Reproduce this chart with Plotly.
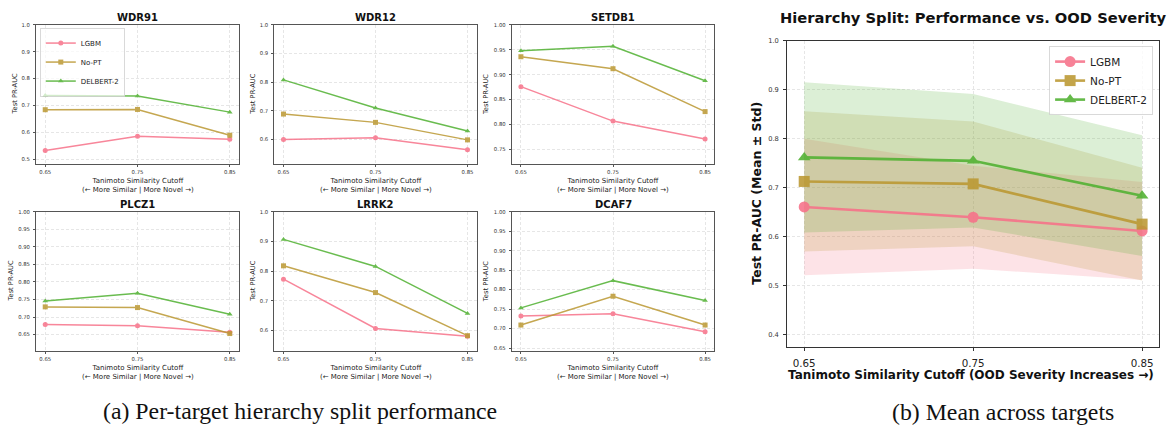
import plotly.graph_objects as go

# ---------------- data ----------------
CUTOFFS = [0.65, 0.75, 0.85]
CUTOFF_LABELS = ["0.65", "0.75", "0.85"]
MODELS = ["LGBM", "No-PT", "DELBERT-2"]
TARGETS = ["WDR91", "WDR12", "SETDB1", "PLCZ1", "LRRK2", "DCAF7"]

WDR91_LGBM = [0.532, 0.585, 0.574]
WDR91_NOPT = [0.684, 0.685, 0.589]
WDR91_DELBERT = [0.737, 0.735, 0.675]

WDR12_LGBM = [0.600, 0.606, 0.565]
WDR12_NOPT = [0.689, 0.660, 0.599]
WDR12_DELBERT = [0.808, 0.710, 0.630]

SETDB1_LGBM = [0.876, 0.807, 0.771]
SETDB1_NOPT = [0.936, 0.912, 0.826]
SETDB1_DELBERT = [0.948, 0.957, 0.888]

PLCZ1_LGBM = [0.679, 0.675, 0.657]
PLCZ1_NOPT = [0.729, 0.727, 0.653]
PLCZ1_DELBERT = [0.746, 0.768, 0.708]

LRRK2_LGBM = [0.773, 0.607, 0.581]
LRRK2_NOPT = [0.818, 0.728, 0.583]
LRRK2_DELBERT = [0.907, 0.816, 0.658]

DCAF7_LGBM = [0.732, 0.738, 0.692]
DCAF7_NOPT = [0.709, 0.783, 0.709]
DCAF7_DELBERT = [0.753, 0.823, 0.772]

MEAN_LGBM = [0.661, 0.640, 0.612]
STD_LGBM = [0.139, 0.105, 0.100]
MEAN_NOPT = [0.713, 0.708, 0.626]
STD_NOPT = [0.143, 0.127, 0.115]
MEAN_DELBERT = [0.762, 0.755, 0.684]
STD_DELBERT = [0.153, 0.136, 0.123]

PER_TARGET = {
    "WDR91": [WDR91_LGBM, WDR91_NOPT, WDR91_DELBERT],
    "WDR12": [WDR12_LGBM, WDR12_NOPT, WDR12_DELBERT],
    "SETDB1": [SETDB1_LGBM, SETDB1_NOPT, SETDB1_DELBERT],
    "PLCZ1": [PLCZ1_LGBM, PLCZ1_NOPT, PLCZ1_DELBERT],
    "LRRK2": [LRRK2_LGBM, LRRK2_NOPT, LRRK2_DELBERT],
    "DCAF7": [DCAF7_LGBM, DCAF7_NOPT, DCAF7_DELBERT],
}
MEANS = [MEAN_LGBM, MEAN_NOPT, MEAN_DELBERT]
STDS = [STD_LGBM, STD_NOPT, STD_DELBERT]

# ---------------- style ----------------
W, H = 1170, 427
COLORS = ["#f77189", "#bb9832", "#50b131"]
FILLS = ["rgba(247,113,137,0.2)", "rgba(187,152,50,0.2)", "rgba(80,177,49,0.2)"]
SYMBOLS = ["circle", "square", "triangle-up"]
FONT = "DejaVu Sans"
GRID = "#e6e6e6"
GRIDDASH = "3px,2px"
FRAME = "#555555"

COLS_PX = [(36, 239), (274.3, 476.7), (511.7, 714.3)]
ROWS_PX = [(21, 161.5), (209.7, 350.4)]
MEAN_PX = ((787.3, 1159), (37, 346))


def fx(p):
    return p / W


def fy(p):
    return 1 - p / H


fig = go.Figure()
layout = dict(
    width=W, height=H, margin=dict(l=0, r=0, t=0, b=0),
    paper_bgcolor="white", plot_bgcolor="white",
    font=dict(family=FONT, color="#222222"),
    annotations=[],
)

for i, t in enumerate(TARGETS):
    n = i + 1
    r, c = divmod(i, 3)
    (x0, x1), (y0, y1) = COLS_PX[c], ROWS_PX[r]
    series = PER_TARGET[t]
    lo = min(min(s) for s in series) - 0.05
    span = 1.0 - lo
    dtick = 0.1 if span > 0.45 else 0.05
    fmt = ".1f" if dtick == 0.1 else ".2f"
    layout[f"xaxis{n}"] = dict(
        domain=[fx(x0), fx(x1)], anchor=f"y{n}", range=[0.64, 0.86],
        tickvals=CUTOFFS, ticktext=CUTOFF_LABELS, tickfont=dict(size=5.3, color="#333"),
        ticks="outside", ticklen=2, tickcolor=FRAME, ticklabelstandoff=1,
        showgrid=True, gridcolor=GRID, griddash=GRIDDASH, gridwidth=0.8,
        showline=True, mirror=True, linecolor=FRAME, linewidth=1, zeroline=False,
    )
    layout[f"yaxis{n}"] = dict(
        domain=[fy(y1), fy(y0)], anchor=f"x{n}", range=[lo, 1.0],
        tick0=0, dtick=dtick, tickformat=fmt, tickfont=dict(size=5.3, color="#333"),
        ticks="outside", ticklen=2, tickcolor=FRAME, ticklabelstandoff=2,
        showgrid=True, gridcolor=GRID, griddash=GRIDDASH, gridwidth=0.8,
        showline=True, mirror=True, linecolor=FRAME, linewidth=1, zeroline=False,
    )
    for m, vals in enumerate(series):
        fig.add_trace(go.Scatter(
            x=CUTOFFS, y=vals, mode="lines+markers", name=MODELS[m],
            line=dict(color=COLORS[m], width=1.5),
            marker=dict(symbol=SYMBOLS[m], size=5, color=COLORS[m]),
            opacity=0.85, xaxis=f"x{n}", yaxis=f"y{n}",
            showlegend=(i == 0), legend="legend",
        ))
    cx = (x0 + x1) / 2
    layout["annotations"] += [
        dict(text=t, x=fx(cx), y=fy(y0 - 7), xref="paper", yref="paper",
             showarrow=False, xanchor="center", yanchor="middle",
             font=dict(size=10, weight="bold", color="#111")),
        dict(text="Test PR-AUC", x=fx(x0 - (21 if fmt == ".1f" else 25)),
             y=fy((y0 + y1) / 2), xref="paper", yref="paper", textangle=-90,
             showarrow=False, xanchor="center", yanchor="middle",
             font=dict(size=6.7, color="#222")),
        dict(text="Tanimoto Similarity Cutoff<br>(← More Similar | More Novel →)",
             x=fx(cx), y=fy(y1 + 22), xref="paper", yref="paper",
             showarrow=False, xanchor="center", yanchor="middle",
             font=dict(size=7, color="#222")),
    ]

# ---------------- mean panel ----------------
(mx0, mx1), (my0, my1) = MEAN_PX
layout["xaxis7"] = dict(
    domain=[fx(mx0), fx(mx1)], anchor="y7", range=[0.64, 0.86],
    tickvals=CUTOFFS, ticktext=CUTOFF_LABELS, tickfont=dict(size=10.3, color="#222"),
    ticks="outside", ticklen=3, tickcolor="#333", ticklabelstandoff=4,
    showgrid=True, gridcolor=GRID, griddash=GRIDDASH, gridwidth=0.8,
    showline=True, mirror=True, linecolor="#333", linewidth=1.2, zeroline=False,
)
layout["yaxis7"] = dict(
    domain=[fy(my1), fy(my0)], anchor="x7", range=[0.376, 1.0],
    tick0=0, dtick=0.1, tickformat=".1f", tickfont=dict(size=6.7, color="#333"),
    ticks="outside", ticklen=3, tickcolor="#333", ticklabelstandoff=3,
    showgrid=True, gridcolor=GRID, griddash=GRIDDASH, gridwidth=0.8,
    showline=True, mirror=True, linecolor="#333", linewidth=1.2, zeroline=False,
)

for m in range(3):
    upper = [a + b for a, b in zip(MEANS[m], STDS[m])]
    lower = [a - b for a, b in zip(MEANS[m], STDS[m])]
    fig.add_trace(go.Scatter(
        x=CUTOFFS + CUTOFFS[::-1], y=upper + lower[::-1], fill="toself",
        fillcolor=FILLS[m], line=dict(width=0), mode="lines",
        hoverinfo="skip", showlegend=False, xaxis="x7", yaxis="y7",
    ))
for m in range(3):
    fig.add_trace(go.Scatter(
        x=CUTOFFS, y=MEANS[m], mode="lines+markers", name=MODELS[m],
        line=dict(color=COLORS[m], width=2.6),
        marker=dict(symbol=SYMBOLS[m], size=11, color=COLORS[m]),
        opacity=0.88, xaxis="x7", yaxis="y7", legend="legend2",
    ))

mcx = (mx0 + mx1) / 2
layout["annotations"] += [
    dict(text="Hierarchy Split: Performance vs. OOD Severity", x=fx(mcx), y=fy(14),
         xref="paper", yref="paper", showarrow=False, xanchor="center", yanchor="middle",
         font=dict(size=14.7, weight="bold", color="#111")),
    dict(text="Test PR-AUC (Mean ± Std)", x=fx(757), y=fy((my0 + my1) / 2),
         xref="paper", yref="paper", showarrow=False, textangle=-90,
         xanchor="center", yanchor="middle",
         font=dict(size=12.5, weight="bold", color="#111")),
    dict(text="Tanimoto Similarity Cutoff (OOD Severity Increases →)", x=fx(971), y=fy(375),
         xref="paper", yref="paper", showarrow=False, xanchor="center", yanchor="middle",
         font=dict(size=12, weight="bold", color="#111")),
    dict(text="(a) Per-target hierarchy split performance", x=fx(300), y=fy(411),
         xref="paper", yref="paper", showarrow=False, xanchor="center", yanchor="middle",
         font=dict(size=23.8, family="Liberation Serif", color="#111")),
    dict(text="(b) Mean across targets", x=fx(1003.5), y=fy(412),
         xref="paper", yref="paper", showarrow=False, xanchor="center", yanchor="middle",
         font=dict(size=23.8, family="Liberation Serif", color="#111")),
]

layout["legend"] = dict(
    x=fx(40), y=fy(24), xanchor="left", yanchor="top",
    font=dict(size=7, color="#222"), bgcolor="rgba(255,255,255,0.7)",
    bordercolor="#d0d0d0", borderwidth=0.8, tracegroupgap=0,
)
layout["legend2"] = dict(
    x=fx(1153.3), y=fy(42.7), xanchor="right", yanchor="top",
    font=dict(size=10.5, color="#222"), bgcolor="rgba(255,255,255,0.8)",
    bordercolor="#d0d0d0", borderwidth=0.8, tracegroupgap=0,
)

fig.update_layout(**layout)
fig.write_html("out.html")
